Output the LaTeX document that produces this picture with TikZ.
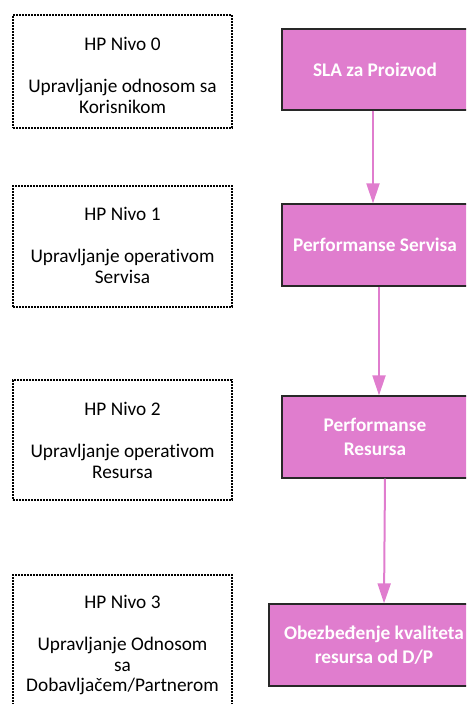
\documentclass[tikz,border=0pt]{standalone}
\usepackage{fontspec}
\setmainfont{Carlito}[Ligatures=NoCommon]
\usetikzlibrary{arrows.meta}
\definecolor{pinkfill}{RGB}{224,125,206}
\definecolor{boxedge}{RGB}{40,40,40}
\begin{document}
\begin{tikzpicture}[x=1pt,y=-1pt,
  hpbox/.style={draw=black, line width=1.8pt, dash pattern=on 1.6pt off 1.4pt, minimum width=219pt, inner sep=0pt},
  hptext/.style={align=center, anchor=north, font=\fontsize{19.3}{20.5}\selectfont, inner sep=0pt},
  slabox/.style={draw=boxedge, fill=pinkfill, line width=1.2pt, inner sep=0pt, minimum height=82pt, align=center, text=white, font=\fontsize{19.3}{24}\selectfont\bfseries},
  flow/.style={draw=pinkfill, line width=2pt, -{Triangle[length=20pt,width=13pt]}}]
\useasboundingbox (0,0) rectangle (466,704);
\clip (0,0) rectangle (466,704);
% left dotted boxes
\node[hpbox, minimum height=113pt] (h0) at (122.5,71.5) {};
\node[hpbox, minimum height=121pt] (h1) at (122.5,246.5) {};
\node[hpbox, minimum height=120pt] (h2) at (122.5,440) {};
\node[hpbox, minimum height=145pt] (h3) at (122.5,647.5) {};
\node[hptext] (t0) at (122.5,37.5) {HP Nivo 0\\[21.5pt]Upravljanje odnosom sa\\Korisnikom};
\node[hptext] (t1) at (122.5,207.5) {HP Nivo 1\\[21.5pt]Upravljanje operativom\\Servisa};
\node[hptext] (t2) at (122.5,402.5) {HP Nivo 2\\[21.5pt]Upravljanje operativom\\Resursa};
\node[hptext] (t3) at (122.5,595.5) {HP Nivo 3\\[21.5pt]Upravljanje Odnosom\\sa\\Dobavljačem/Partnerom};
% pink boxes
\node[slabox, minimum width=186pt, minimum height=81pt] (A) at (375,69.5) {SLA za Proizvod};
\node[slabox, minimum width=186pt] (B) at (375,245) {Performanse Servisa};
\node[slabox, minimum width=186pt] (C) at (375,437) {Performanse\\Resursa};
\node[slabox, minimum width=210pt] (D) at (374,645) {Obezbeđenje kvaliteta\\resursa od D/P};
% arrows
\draw[flow] ([xshift=-2pt]A.south) -- ([xshift=-2pt]B.north);
\draw[flow] ([xshift=4pt]B.south) -- ([xshift=4pt]C.north);
\draw[flow] ([xshift=10pt]C.south) -- ([xshift=10pt]D.north);
\end{tikzpicture}
\end{document}
